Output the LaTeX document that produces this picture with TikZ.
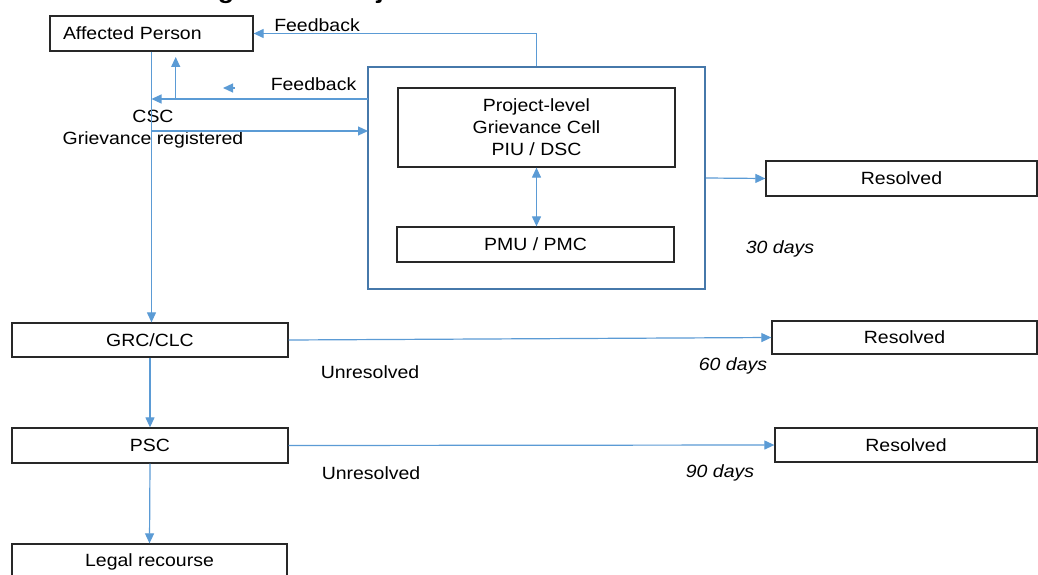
\documentclass[tikz,border=0pt]{standalone}
\usepackage{fontspec}
\setmainfont{Liberation Sans}[FakeStretch=1.1]
\usetikzlibrary{arrows.meta}
\definecolor{conncol}{RGB}{91,155,213}
\definecolor{bigcol}{RGB}{70,120,170}
\definecolor{boxcol}{RGB}{40,40,40}
\tikzset{
  box/.style={draw=boxcol, line width=1.3pt, rectangle, inner sep=0pt, align=center},
  conn/.style={draw=conncol, line width=1.2pt},
  tip/.style={-{Triangle[length=10pt,width=9pt]}},
  lbl/.style={inner sep=0pt, anchor=center},
}
\begin{document}
\begin{tikzpicture}[x=1pt,y=-1pt,font=\fontsize{17.7pt}{22pt}\selectfont]
\useasboundingbox (0,0) rectangle (1038,575);
\clip (0,0) rectangle (1038,575);
\fill[white] (0,0) rectangle (1038,575);
% cut-off title
\node[inner sep=0pt, anchor=base west, font=\fontsize{24.3pt}{28pt}\selectfont\bfseries] (title) at (194,-1.5) {Figure 10: Project Grievance Redress Mechanism};
% boxes
\node[box, minimum width=203pt, minimum height=35pt, text width=177pt, align=left] (ap) at (151.5,33.5) {Affected Person};
\node[draw=bigcol, line width=2pt, rectangle, minimum width=337pt, minimum height=222pt, inner sep=0pt] (big) at (536.5,178) {};
\node[box, minimum width=277pt, minimum height=79pt] (pgc) at (536.5,127.5) {Project-level\\Grievance Cell\\PIU / DSC};
\node[box, minimum width=277pt, minimum height=35pt] (pmu) at (535.5,244.5) {PMU / PMC};
\node[box, minimum width=271pt, minimum height=35pt] (res1) at (901.5,178.5) {Resolved};
\node[box, minimum width=276pt, minimum height=34pt] (grc) at (150,340) {GRC/CLC};
\node[box, minimum width=265pt, minimum height=33pt] (res2) at (904.5,337.5) {Resolved};
\node[box, minimum width=276pt, minimum height=35pt] (psc) at (150,445.5) {PSC};
\node[box, minimum width=262pt, minimum height=34pt] (res3) at (906,445) {Resolved};
\node[box, minimum width=275pt, minimum height=35pt] (legal) at (149.5,561.5) {Legal recourse};
% labels
\node[lbl] (fb1) at (317,25) {Feedback};
\node[lbl] (fb2) at (313.5,84) {Feedback};
\node[lbl] (csc) at (153,116) {CSC};
\node[lbl] (greg) at (153,139.5) {Grievance registered};
\node[lbl, font=\fontsize{17.7pt}{22pt}\selectfont\itshape] (d30) at (780,249) {30 days};
\node[lbl] (un1) at (370,372) {Unresolved};
\node[lbl, font=\fontsize{17.7pt}{22pt}\selectfont\itshape] (d60) at (733,366) {60 days};
\node[lbl] (un2) at (371,473.5) {Unresolved};
\node[lbl, font=\fontsize{17.7pt}{22pt}\selectfont\itshape] (d90) at (720,472.5) {90 days};
% coordinates
\coordinate (fbL) at (151.5,99);
\coordinate (fbR) at (368,99);
\coordinate (upB) at (175.7,99);
\coordinate (upT) at (175.7,57);
\coordinate (strayA) at (234.5,88);
\coordinate (strayB) at (223,88);
\coordinate (regL) at (151.5,131);
\coordinate (regR) at (368,131);
% connectors
\draw[conn,tip] (big.north) |- (ap.east);
\draw[conn,tip] (fbR) -- (fbL);
\draw[conn,tip] (upB) -- (upT);
\draw[conn,tip] (strayA) -- (strayB);
\draw[conn,tip] (regL) -- (regR);
\draw[conn,tip] (ap.south) -- (ap.south |- grc.north);
\draw[conn,{Triangle[length=10pt,width=9pt]}-{Triangle[length=10pt,width=9pt]}] (pgc.south) -- (pmu.north -| pgc.south);
\draw[conn,tip] (big.east) -- (res1.west);
\draw[conn,tip] (grc.east) -- (res2.west);
\draw[conn,tip] (grc.south) -- (psc.north);
\draw[conn,tip] (psc.east) -- (res3.west);
\draw[conn,tip] (psc.south) -- (legal.north);
\end{tikzpicture}
\end{document}
